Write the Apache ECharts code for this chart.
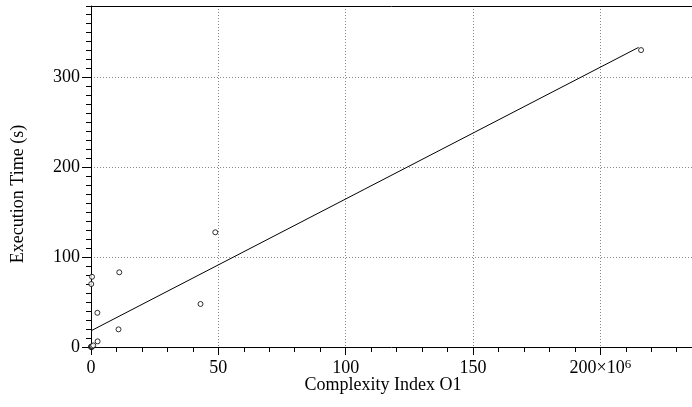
<!DOCTYPE html>
<html>
<head>
<meta charset="utf-8">
<script src="https://cdn.jsdelivr.net/npm/echarts@6/dist/echarts.min.js"></script>
<style>
  html, body { margin: 0; padding: 0; background: #fff; }
  #chart { width: 692px; height: 407px; }
</style>
</head>
<body>
<div id="chart"></div>
<script>
// complexity index O1, in units of 10^6
var complexityM = [0, 0.1, 0.2, 0.4, 0.5, 0.9, 2.6, 2.5, 0.1, 0.4, 10.8, 11.1, 43, 48.8, 216];
// execution time in seconds
var execTime    = [0, 0.3, 0.5, 0.2, 1, 1.8, 6.3, 38, 70, 78, 19.6, 83, 47.8, 127.5, 330];

// fitted line (intercept in s, slope in s per 10^6)
var fitIntercept = 18;
var fitSlope = 1.465;
var fitRange = [0, 215];

var xMajorTicks = [0, 50, 100, 150, 200];
var yMajorTicks = [0, 100, 200, 300];

var serif = 'Liberation Serif';

var points = complexityM.map(function (x, i) { return [x, execTime[i]]; });
var fitLine = fitRange.map(function (x) { return [x, fitIntercept + fitSlope * x]; });

var myChart = echarts.init(document.getElementById('chart'));

var option = {
  animation: false,
  grid: { left: 91, top: 6, right: 0, bottom: 60 },
  xAxis: [
    { // minor ticks
      type: 'value', min: 0, max: 236, interval: 10, position: 'bottom',
      axisLine: { onZero: false, lineStyle: { color: '#000', width: 1 } },
      axisTick: { length: 5, lineStyle: { color: '#000' } },
      axisLabel: { show: false },
      splitLine: { show: false }
    },
    { // major ticks + labels
      type: 'value', min: 0, max: 236, interval: 50, position: 'bottom',
      axisLine: { show: false, onZero: false },
      axisTick: { length: 8, lineStyle: { color: '#000' } },
      axisLabel: {
        showMaxLabel: false, margin: 11,
        fontFamily: serif, fontSize: 18, color: '#000', lineHeight: 20,
        formatter: function (v) {
          return v === xMajorTicks[xMajorTicks.length - 1] ? v + '×10{s|6}' : String(v);
        },
        rich: { s: { fontFamily: serif, fontSize: 13, color: '#000', verticalAlign: 'top', lineHeight: 12, padding: [0, 0, 6, 0] } }
      },
      splitLine: { show: true, showMaxLine: false, lineStyle: { color: '#888', type: [1, 2], width: 1 } }
    },
    { // top border
      type: 'value', min: 0, max: 236, position: 'top',
      axisLine: { onZero: false, lineStyle: { color: '#000', width: 1 } },
      axisTick: { show: false }, axisLabel: { show: false }, splitLine: { show: false }
    }
  ],
  yAxis: [
    {
      type: 'value', min: 0, max: 379, interval: 10, position: 'left',
      axisLine: { show: true, onZero: false, lineStyle: { color: '#000', width: 1 } },
      axisTick: { show: true, length: 5, lineStyle: { color: '#000' } },
      axisLabel: { show: false },
      splitLine: { show: false }
    },
    {
      type: 'value', min: 0, max: 379, interval: 100, position: 'left',
      axisLine: { show: false, onZero: false },
      axisTick: { show: true, length: 9, lineStyle: { color: '#000' } },
      axisLabel: { showMaxLabel: false, margin: 11, fontFamily: serif, fontSize: 18, color: '#000' },
      splitLine: { show: true, showMaxLine: false, showMinLine: false, lineStyle: { color: '#888', type: [1, 2], width: 1 } }
    }
  ],
  graphic: [
    {
      type: 'text', x: 18, y: 194, rotation: Math.PI / 2,
      style: { text: 'Execution Time (s)', font: '18px "Liberation Serif"', fill: '#000', align: 'center', verticalAlign: 'middle' }
    },
    {
      type: 'text', x: 383, y: 385,
      style: { text: 'Complexity Index O1', font: '18px "Liberation Serif"', fill: '#000', align: 'center', verticalAlign: 'middle' }
    }
  ],
  series: [
    {
      type: 'line', xAxisIndex: 1, yAxisIndex: 1,
      data: fitLine, showSymbol: false, symbol: 'none',
      lineStyle: { color: '#000', width: 1 }, z: 2
    },
    {
      type: 'scatter', xAxisIndex: 1, yAxisIndex: 1,
      data: points, symbol: 'circle', symbolSize: 5,
      itemStyle: { color: '#fff', borderColor: '#000', borderWidth: 1 }, z: 3
    }
  ]
};

myChart.setOption(option);
</script>
</body>
</html>
